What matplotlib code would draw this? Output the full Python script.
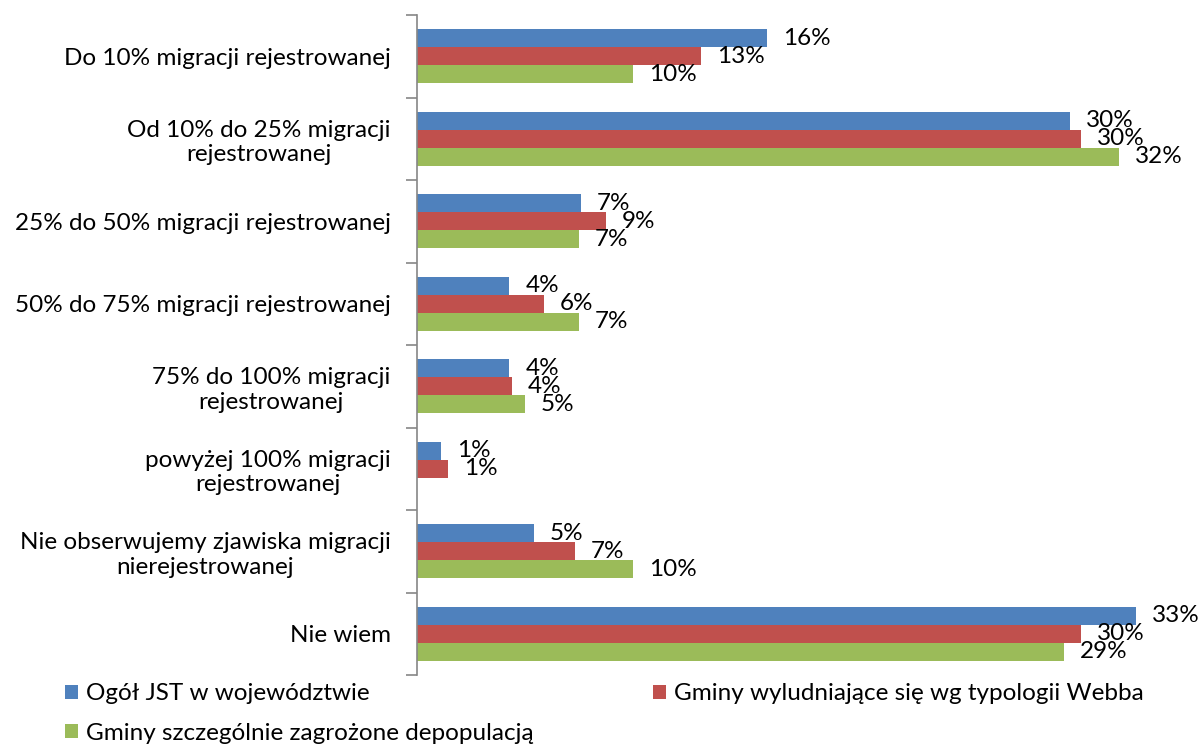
import matplotlib
matplotlib.use("Agg")
import matplotlib.pyplot as plt
from matplotlib.patches import Patch
import numpy as np

categories = [
    "Do 10% migracji rejestrowanej",
    "Od 10% do 25% migracji\nrejestrowanej",
    "25% do 50% migracji rejestrowanej",
    "50% do 75% migracji rejestrowanej",
    "75% do 100% migracji\nrejestrowanej",
    "powyżej 100% migracji\nrejestrowanej",
    "Nie obserwujemy zjawiska migracji\nnierejestrowanej",
    "Nie wiem",
]
series_names = [
    "Ogół JST w województwie",
    "Gminy wyludniające się wg typologii Webba",
    "Gminy szczególnie zagrożone depopulacją",
]
ogol = [15.9, 29.7, 7.44, 4.2, 4.2, 1.09, 5.3, 32.7]
webb = [12.9, 30.2, 8.6, 5.75, 4.3, 1.43, 7.17, 30.2]
zagrozone = [9.8, 31.9, 7.35, 7.35, 4.9, 0.0, 9.8, 29.4]
colors = ["#4F81BD", "#C0504D", "#9BBB59"]

plt.rcParams['font.family'] = ['Lato', 'DejaVu Sans']
FS = 17.5

fig = plt.figure(figsize=(12.01, 7.45), dpi=100)
ax = fig.add_axes([417/1201, 1-675/745, (1187-417)/1201, 660/745])

y = np.arange(len(categories))
h = 0.22
data = [ogol, webb, zagrozone]
offsets = [-h, 0, h]
for vals, off, c in zip(data, offsets, colors):
    bars = ax.barh(y + off, vals, height=h, color=c, edgecolor='none')
    for b, v in zip(bars, vals):
        if v > 0:
            ax.annotate(f"{round(v)}%", (v, b.get_y() + b.get_height()/2),
                        xytext=(16, 0), textcoords='offset pixels',
                        ha='left', va='center', fontsize=FS, color='black')

ax.set_xlim(0, 35)
ax.set_ylim(len(categories) - 0.5, -0.5)
ax.set_yticks(y)
ax.set_yticklabels(categories, fontsize=FS, multialignment='center')
ax.tick_params(axis='y', which='major', length=0, pad=19)
ax.set_yticks(np.arange(len(categories) + 1) - 0.5, minor=True)
ax.tick_params(axis='y', which='minor', length=8, width=1.2, color='#868686', direction='out')
ax.set_xticks([])
for s in ['top', 'right', 'bottom']:
    ax.spines[s].set_visible(False)
ax.spines['left'].set_color('#868686')
ax.spines['left'].set_linewidth(1.2)

# legends
pos = [(65, 694), (653, 694), (65, 733)]
for name, c, (px, py) in zip(series_names, colors, pos):
    fig.legend(handles=[Patch(facecolor=c, edgecolor='none')], labels=[name],
               loc='center left', bbox_to_anchor=(px/1201, 1-py/745),
               frameon=False, fontsize=FS, handlelength=0.55, handleheight=0.55,
               handletextpad=0.3, borderpad=0, borderaxespad=0)

fig.savefig("out.png", dpi=100)
